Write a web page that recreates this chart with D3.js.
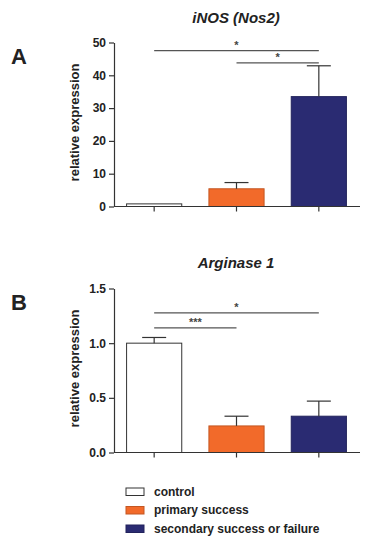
<!DOCTYPE html>
<html>
<head>
<meta charset="utf-8">
<script src="https://cdn.jsdelivr.net/npm/d3@7"></script>
<style>
  body { margin: 0; background: #fff; }
  svg { display: block; font-family: "Liberation Sans", Arial, sans-serif; }
</style>
</head>
<body>
<svg id="fig" width="383" height="550"></svg>
<script>
'use strict';

/* -- Data ------------------------------------------------------------------ */
const groups = ['control', 'primary success', 'secondary success or failure'];
const groupColors = ['#ffffff', '#f26a2a', '#2a2b72'];

const inosMean = [0.8, 5.4, 33.5];
const inosErr = [0.8, 7.3, 42.9];      // top of error bar
const inosTicks = [0, 10, 20, 30, 40, 50];
const inosSig = [
    {from: 0, to: 2, level: 47.5, label: '*'},
    {from: 1, to: 2, level: 43.8, label: '*'}
];

const argMean = [1.0, 0.243, 0.332];
const argErr = [1.052, 0.332, 0.47];
const argTicks = [0, 0.5, 1.0, 1.5];
const argSig = [
    {from: 0, to: 2, level: 1.277, label: '*'},
    {from: 0, to: 1, level: 1.14, label: '***'}
];

const svg = d3.select('#fig');

/* -- One bar panel --------------------------------------------------------- */
const barPanel = function(Obj) {
    const g = svg.append('g');
    const left = 114, right = 360;

    const xScale = d3.scaleBand()
        .domain(d3.range(groups.length))
        .range([left - 1, right])
        .paddingInner(0.33)
        .paddingOuter(0.165);

    const yScale = d3.scaleLinear()
        .domain([0, Obj.yMax])
        .range([Obj.y0, Obj.y0 - 164]);

    // bars
    g.selectAll('rect.bar')
        .data(Obj.mean)
        .enter()
        .append('rect')
        .attr('class', 'bar')
        .attr('x', (d, i) => xScale(i))
        .attr('width', xScale.bandwidth())
        .attr('y', d => yScale(d))
        .attr('height', d => yScale(0) - yScale(d))
        .attr('fill', (d, i) => groupColors[i])
        .attr('stroke', (d, i) => i === 0 ? '#333' : d3.color(groupColors[i]).darker(0.6))
        .attr('stroke-width', 1);

    // error bars (upper only)
    const eb = g.selectAll('g.err')
        .data(Obj.err)
        .enter()
        .append('g')
        .attr('class', 'err')
        .attr('stroke', '#333')
        .attr('stroke-width', 1.2);
    eb.append('line')
        .attr('x1', (d, i) => xScale(i) + xScale.bandwidth() / 2)
        .attr('x2', (d, i) => xScale(i) + xScale.bandwidth() / 2)
        .attr('y1', (d, i) => yScale(Obj.mean[i]))
        .attr('y2', d => yScale(d));
    eb.append('line')
        .attr('x1', (d, i) => xScale(i) + xScale.bandwidth() / 2 - 12)
        .attr('x2', (d, i) => xScale(i) + xScale.bandwidth() / 2 + 12)
        .attr('y1', d => yScale(d))
        .attr('y2', d => yScale(d))
        .attr('display', (d, i) => d > Obj.mean[i] ? null : 'none');

    // y axis
    const yAxis = d3.axisLeft(yScale)
        .tickValues(Obj.ticks)
        .tickFormat(Obj.fmt)
        .tickSize(5)
        .tickSizeOuter(0);
    const yAxisEl = g.append('g')
        .attr('transform', 'translate(' + left + ',0)')
        .call(yAxis);
    yAxisEl.selectAll('text')
        .attr('font-size', 12)
        .attr('font-weight', 'bold')
        .attr('fill', '#222')
        .attr('font-family', '"Liberation Sans", Arial, sans-serif');
    yAxisEl.selectAll('path, line').attr('stroke', '#333').attr('stroke-width', 1.2);

    // x axis
    const xAxisEl = g.append('g')
        .attr('transform', 'translate(0,' + Obj.y0 + ')');
    xAxisEl.append('line')
        .attr('x1', left).attr('x2', right)
        .attr('stroke', '#333').attr('stroke-width', 1.2);
    xAxisEl.selectAll('line.tick')
        .data(groups)
        .enter()
        .append('line')
        .attr('class', 'tick')
        .attr('x1', (d, i) => xScale(i) + xScale.bandwidth() / 2)
        .attr('x2', (d, i) => xScale(i) + xScale.bandwidth() / 2)
        .attr('y1', 0).attr('y2', 5)
        .attr('stroke', '#333').attr('stroke-width', 1.2);

    // significance bars
    const sig = g.selectAll('g.sig')
        .data(Obj.sig)
        .enter()
        .append('g')
        .attr('class', 'sig');
    sig.append('line')
        .attr('x1', d => xScale(d.from) + xScale.bandwidth() / 2)
        .attr('x2', d => xScale(d.to) + xScale.bandwidth() / 2)
        .attr('y1', d => yScale(d.level))
        .attr('y2', d => yScale(d.level))
        .attr('stroke', '#555')
        .attr('stroke-width', 1.2);
    sig.append('text')
        .attr('x', d => (xScale(d.from) + xScale(d.to) + xScale.bandwidth()) / 2)
        .attr('y', d => yScale(d.level) - 2)
        .attr('text-anchor', 'middle')
        .attr('font-size', 11)
        .attr('font-weight', 'bold')
        .attr('fill', '#444')
        .text(d => d.label);

    // title
    g.append('text')
        .attr('x', 236)
        .attr('y', Obj.titleY)
        .attr('text-anchor', 'middle')
        .attr('font-size', 15)
        .attr('font-weight', 'bold')
        .attr('font-style', 'italic')
        .attr('fill', '#222')
        .text(Obj.title);

    // panel letter
    g.append('text')
        .attr('x', 11)
        .attr('y', Obj.letterY)
        .attr('font-size', 22)
        .attr('font-weight', 'bold')
        .attr('fill', '#222')
        .text(Obj.letter);

    // y label
    g.append('text')
        .attr('transform', 'translate(79,' + (Obj.y0 - 84) + ') rotate(-90)')
        .attr('text-anchor', 'middle')
        .attr('font-size', 13)
        .attr('font-weight', 'bold')
        .attr('fill', '#222')
        .text('relative expression');
};

barPanel({
    mean: inosMean, err: inosErr, ticks: inosTicks, sig: inosSig,
    yMax: 50, y0: 206.5, fmt: d3.format('d'),
    title: 'iNOS (Nos2)', titleY: 23, letter: 'A', letterY: 64
});

barPanel({
    mean: argMean, err: argErr, ticks: argTicks, sig: argSig,
    yMax: 1.5, y0: 452.5, fmt: d3.format('.1f'),
    title: 'Arginase 1', titleY: 268, letter: 'B', letterY: 310
});

/* -- Legend ---------------------------------------------------------------- */
const legend = svg.append('g').attr('transform', 'translate(126,488)');
const item = legend.selectAll('g.item')
    .data(groups)
    .enter()
    .append('g')
    .attr('class', 'item')
    .attr('transform', (d, i) => 'translate(0,' + (i * 18.5) + ')');
item.append('rect')
    .attr('width', 18).attr('height', 7.5)
    .attr('fill', (d, i) => groupColors[i])
    .attr('stroke', (d, i) => i === 0 ? '#333' : d3.color(groupColors[i]).darker(0.6));
item.append('text')
    .attr('x', 28).attr('y', 7.5)
    .attr('font-size', 12)
    .attr('font-weight', 'bold')
    .attr('fill', '#222')
    .text(d => d);
</script>
</body>
</html>
